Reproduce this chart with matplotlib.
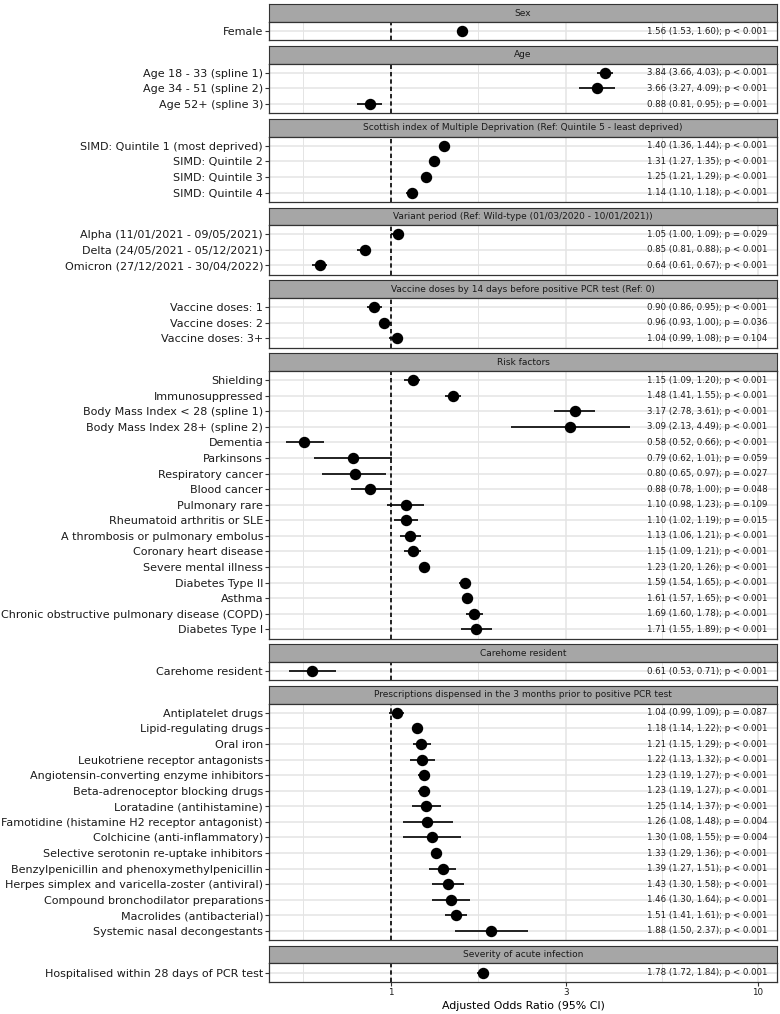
import matplotlib
matplotlib.use("Agg")
import matplotlib.pyplot as plt
import numpy as np

# ---------------- data ----------------
group_names = [
    "Sex",
    "Age",
    "Scottish index of Multiple Deprivation (Ref: Quintile 5 - least deprived)",
    "Variant period (Ref: Wild-type (01/03/2020 - 10/01/2021))",
    "Vaccine doses by 14 days before positive PCR test (Ref: 0)",
    "Risk factors",
    "Carehome resident",
    "Prescriptions dispensed in the 3 months prior to positive PCR test",
    "Severity of acute infection",
]

row_group = [0,
             1, 1, 1,
             2, 2, 2, 2,
             3, 3, 3,
             4, 4, 4,
             5, 5, 5, 5, 5, 5, 5, 5, 5, 5, 5, 5, 5, 5, 5, 5, 5,
             6,
             7, 7, 7, 7, 7, 7, 7, 7, 7, 7, 7, 7, 7, 7, 7,
             8]

row_labels = [
    "Female",
    "Age 18 - 33 (spline 1)", "Age 34 - 51 (spline 2)", "Age 52+ (spline 3)",
    "SIMD: Quintile 1 (most deprived)", "SIMD: Quintile 2", "SIMD: Quintile 3", "SIMD: Quintile 4",
    "Alpha (11/01/2021 - 09/05/2021)", "Delta (24/05/2021 - 05/12/2021)", "Omicron (27/12/2021 - 30/04/2022)",
    "Vaccine doses: 1", "Vaccine doses: 2", "Vaccine doses: 3+",
    "Shielding", "Immunosuppressed", "Body Mass Index < 28 (spline 1)", "Body Mass Index 28+ (spline 2)",
    "Dementia", "Parkinsons", "Respiratory cancer", "Blood cancer", "Pulmonary rare",
    "Rheumatoid arthritis or SLE", "A thrombosis or pulmonary embolus", "Coronary heart disease",
    "Severe mental illness", "Diabetes Type II", "Asthma",
    "Chronic obstructive pulmonary disease (COPD)", "Diabetes Type I",
    "Carehome resident",
    "Antiplatelet drugs", "Lipid-regulating drugs", "Oral iron", "Leukotriene receptor antagonists",
    "Angiotensin-converting enzyme inhibitors", "Beta-adrenoceptor blocking drugs",
    "Loratadine (antihistamine)", "Famotidine (histamine H2 receptor antagonist)",
    "Colchicine (anti-inflammatory)", "Selective serotonin re-uptake inhibitors",
    "Benzylpenicillin and phenoxymethylpenicillin", "Herpes simplex and varicella-zoster (antiviral)",
    "Compound bronchodilator preparations", "Macrolides (antibacterial)", "Systemic nasal decongestants",
    "Hospitalised within 28 days of PCR test",
]

odds_ratio = [1.56,
              3.84, 3.66, 0.88,
              1.40, 1.31, 1.25, 1.14,
              1.05, 0.85, 0.64,
              0.90, 0.96, 1.04,
              1.15, 1.48, 3.17, 3.09, 0.58, 0.79, 0.80, 0.88, 1.10, 1.10, 1.13, 1.15, 1.23, 1.59, 1.61, 1.69, 1.71,
              0.61,
              1.04, 1.18, 1.21, 1.22, 1.23, 1.23, 1.25, 1.26, 1.30, 1.33, 1.39, 1.43, 1.46, 1.51, 1.88,
              1.78]

ci_low = [1.53,
          3.66, 3.27, 0.81,
          1.36, 1.27, 1.21, 1.10,
          1.00, 0.81, 0.61,
          0.86, 0.93, 0.99,
          1.09, 1.41, 2.78, 2.13, 0.52, 0.62, 0.65, 0.78, 0.98, 1.02, 1.06, 1.09, 1.20, 1.54, 1.57, 1.60, 1.55,
          0.53,
          0.99, 1.14, 1.15, 1.13, 1.19, 1.19, 1.14, 1.08, 1.08, 1.29, 1.27, 1.30, 1.30, 1.41, 1.50,
          1.72]

ci_high = [1.60,
           4.03, 4.09, 0.95,
           1.44, 1.35, 1.29, 1.18,
           1.09, 0.88, 0.67,
           0.95, 1.00, 1.08,
           1.20, 1.55, 3.61, 4.49, 0.66, 1.01, 0.97, 1.00, 1.23, 1.19, 1.21, 1.21, 1.26, 1.65, 1.65, 1.78, 1.89,
           0.71,
           1.09, 1.22, 1.29, 1.32, 1.27, 1.27, 1.37, 1.48, 1.55, 1.36, 1.51, 1.58, 1.64, 1.61, 2.37,
           1.84]

p_text = ["< 0.001",
          "< 0.001", "< 0.001", "= 0.001",
          "< 0.001", "< 0.001", "< 0.001", "< 0.001",
          "= 0.029", "< 0.001", "< 0.001",
          "< 0.001", "= 0.036", "= 0.104",
          "< 0.001", "< 0.001", "< 0.001", "< 0.001", "< 0.001", "= 0.059", "= 0.027", "= 0.048",
          "= 0.109", "= 0.015", "< 0.001", "< 0.001", "< 0.001", "< 0.001", "< 0.001", "< 0.001", "< 0.001",
          "< 0.001",
          "= 0.087", "< 0.001", "< 0.001", "< 0.001", "< 0.001", "< 0.001", "< 0.001", "= 0.004",
          "= 0.004", "< 0.001", "< 0.001", "< 0.001", "< 0.001", "< 0.001", "< 0.001",
          "< 0.001"]

x_ticks = [1, 3, 10]
x_tick_labels = ["1", "3", "10"]

# ---------------- layout (pixels) ----------------
W, H = 780, 1014
left_px, right_px = 269.3, 776.7
top0 = 4.3
strip_h = 17.5
gap = 5.6
unit = 15.57
xlim = (0.467, 11.27)
text_x = 5.0

dark = "#333333"
grid_c = "#E4E4E4"

fig = plt.figure(figsize=(W / 100, H / 100), dpi=100)

y = top0
n_groups = len(group_names)
minor_ticks = [10 ** (-np.log10(3) / 2), np.sqrt(3), np.sqrt(30)]

for g in range(n_groups):
    idx = [i for i, rg in enumerate(row_group) if rg == g]
    n = len(idx)
    # strip
    sax = fig.add_axes([left_px / W, 1 - (y + strip_h) / H, (right_px - left_px) / W, strip_h / H])
    sax.set_facecolor("#A6A6A6")
    sax.set_xticks([])
    sax.set_yticks([])
    for sp in sax.spines.values():
        sp.set_color(dark)
        sp.set_linewidth(0.8)
    sax.text(0.5, 0.5, group_names[g], transform=sax.transAxes, ha="center", va="center",
             fontsize=6.5, color="#1A1A1A")
    y += strip_h
    ph = (n + 0.2) * unit
    ax = fig.add_axes([left_px / W, 1 - (y + ph) / H, (right_px - left_px) / W, ph / H])
    y += ph + gap

    ax.set_xscale("log")
    ax.set_xlim(*xlim)
    ax.set_ylim(n - 1 + 0.6, -0.6)
    ax.set_axisbelow(True)

    ypos = np.arange(n)
    ax.set_yticks(ypos)
    ax.set_yticklabels([row_labels[i] for i in idx], fontsize=8, color="#1A1A1A")
    ax.set_xticks(x_ticks)
    ax.set_xticks(minor_ticks, minor=True)
    ax.xaxis.set_minor_formatter(plt.NullFormatter())
    ax.tick_params(axis="y", length=3, width=0.8, color=dark, pad=1.5)
    ax.tick_params(axis="x", which="minor", length=0)
    ax.grid(True, which="major", color=grid_c, linewidth=1.1)
    ax.grid(True, which="minor", axis="x", color=grid_c, linewidth=0.7)
    if g == n_groups - 1:
        ax.set_xticklabels(x_tick_labels, fontsize=6.3, color="#1A1A1A")
        ax.tick_params(axis="x", which="major", length=3, width=0.8, color=dark, pad=1.5)
        ax.set_xlabel("Adjusted Odds Ratio (95% CI)", fontsize=7.9, color="#000000", labelpad=3)
    else:
        ax.set_xticklabels([])
        ax.tick_params(axis="x", which="major", length=0)
    for sp in ax.spines.values():
        sp.set_color(dark)
        sp.set_linewidth(0.9)

    ax.axvline(1, color="black", linestyle=(0, (2.6, 1.8)), linewidth=1.2, zorder=2)

    est = np.array([odds_ratio[i] for i in idx])
    lo = np.array([ci_low[i] for i in idx])
    hi = np.array([ci_high[i] for i in idx])
    ax.hlines(ypos, lo, hi, color="black", linewidth=1.2, zorder=3)
    ax.plot(est, ypos, "o", color="black", markersize=7.2, zorder=4)

    for k, i in enumerate(idx):
        ax.text(text_x, k, f"{odds_ratio[i]:.2f} ({ci_low[i]:.2f}, {ci_high[i]:.2f}); p {p_text[i]}",
                fontsize=6.2, ha="left", va="center", color="#1A1A1A", zorder=5)

fig.savefig("out.png", dpi=100)
